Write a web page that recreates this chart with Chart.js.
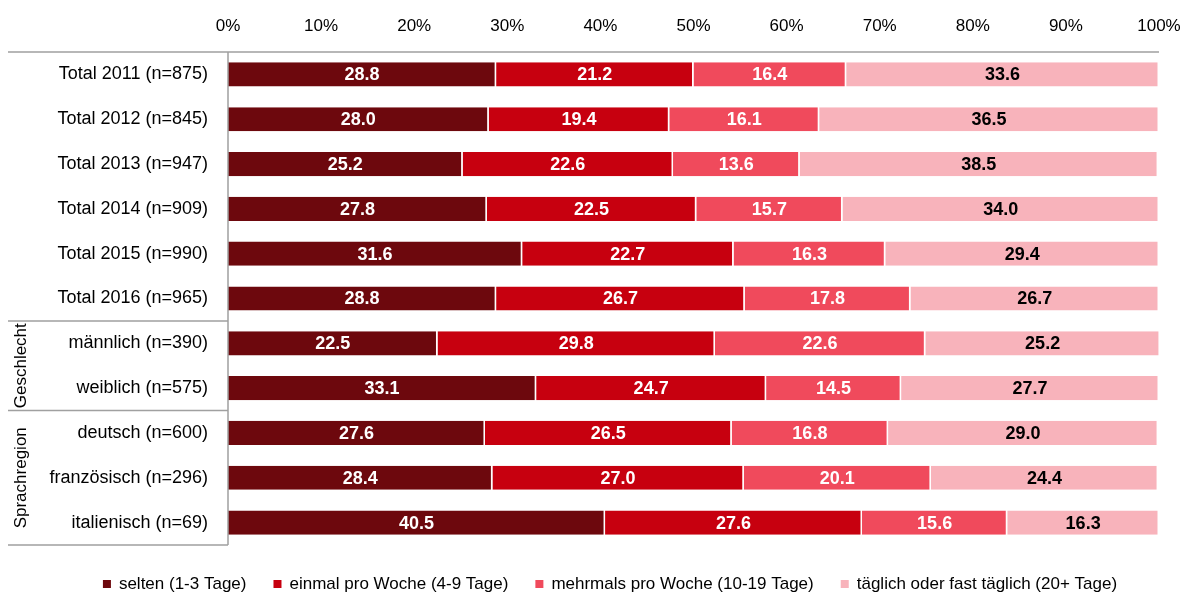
<!DOCTYPE html>
<html>
<head>
<meta charset="utf-8">
<script src="https://cdn.jsdelivr.net/npm/chart.js@4.4.0/dist/chart.umd.min.js"></script>
<style>
  body { margin: 0; background: #fff; }
  #wrap { width: 1184px; height: 597px; position: relative; }
</style>
</head>
<body>
<div id="wrap"><canvas id="myChart"></canvas></div>
<script>
var labels = ["Total 2011 (n=875)", "Total 2012 (n=845)", "Total 2013 (n=947)", "Total 2014 (n=909)",
  "Total 2015 (n=990)", "Total 2016 (n=965)", "männlich (n=390)", "weiblich (n=575)",
  "deutsch (n=600)", "französisch (n=296)", "italienisch (n=69)"]

var selten   = [28.8, 28.0, 25.2, 27.8, 31.6, 28.8, 22.5, 33.1, 27.6, 28.4, 40.5]
var einmal   = [21.2, 19.4, 22.6, 22.5, 22.7, 26.7, 29.8, 24.7, 26.5, 27.0, 27.6]
var mehrmals = [16.4, 16.1, 13.6, 15.7, 16.3, 17.8, 22.6, 14.5, 16.8, 20.1, 15.6]
var taeglich = [33.6, 36.5, 38.5, 34.0, 29.4, 26.7, 25.2, 27.7, 29.0, 24.4, 16.3]

var seriesNames = ["selten (1-3 Tage)", "einmal pro Woche (4-9 Tage)", "mehrmals pro Woche (10-19 Tage)", "täglich oder fast täglich (20+ Tage)"]

// groups: [label, first index, last index]
var groups = [["Geschlecht", 6, 7], ["Sprachregion", 8, 10]]

var FONT = "'Liberation Sans', Arial, sans-serif"

var colors = ["#6d080d", "#c7000f", "#f04a5c", "#f8b3bb"]
var labelColors = ["#fff", "#fff", "#fff", "#000"]

// draws the numbers inside the bars
var barLabels = {
  id: 'barLabels',
  afterDatasetsDraw: function(chart) {
    var ctx = chart.ctx
    ctx.save()
    ctx.font = "bold 18px " + FONT
    ctx.textAlign = 'center'
    ctx.textBaseline = 'middle'
    chart.data.datasets.forEach(function(ds, i) {
      var meta = chart.getDatasetMeta(i)
      meta.data.forEach(function(bar, j) {
        ctx.fillStyle = labelColors[i]
        var x = (bar.x + bar.base) / 2
        ctx.fillText(ds.data[j].toFixed(1), x, bar.y + 1)
      })
    })
    ctx.restore()
  }
}

// lines, group labels at the left, legend at the bottom
var frame = {
  id: 'frame',
  afterDraw: function(chart) {
    var ctx = chart.ctx
    var a = chart.chartArea
    var step = (a.bottom - a.top) / labels.length
    ctx.save()
    ctx.strokeStyle = '#a0a0a0'
    ctx.lineWidth = 1.5
    ctx.beginPath()
    ctx.moveTo(8, a.top); ctx.lineTo(a.right, a.top)
    ctx.moveTo(a.left, a.top); ctx.lineTo(a.left, a.bottom)
    groups.forEach(function(g) {
      var yy = a.top + g[1] * step
      ctx.moveTo(8, yy); ctx.lineTo(a.left, yy)
    })
    ctx.moveTo(8, a.bottom); ctx.lineTo(a.left, a.bottom)
    ctx.stroke()

    ctx.fillStyle = '#000'
    ctx.font = "17px " + FONT
    ctx.textAlign = 'center'
    ctx.textBaseline = 'middle'
    groups.forEach(function(g) {
      var mid = a.top + (g[1] + g[2] + 1) / 2 * step
      ctx.save()
      ctx.translate(21, mid)
      ctx.rotate(-Math.PI / 2)
      ctx.fillText(g[0], 0, 0)
      ctx.restore()
    })

    // legend
    ctx.font = "17px " + FONT
    ctx.textAlign = 'left'
    var box = 8, gap = 8, sep = 27
    var w = 0
    seriesNames.forEach(function(n, i) {
      w += box + gap + ctx.measureText(n).width + (i < seriesNames.length - 1 ? sep : 0)
    })
    var x = 610 - w / 2, y = 584
    seriesNames.forEach(function(n, i) {
      ctx.fillStyle = colors[i]
      ctx.fillRect(x, y - box / 2, box, box)
      ctx.fillStyle = '#000'
      ctx.fillText(n, x + box + gap, y)
      x += box + gap + ctx.measureText(n).width + sep
    })
    ctx.restore()
  }
}

var allData = [selten, einmal, mehrmals, taeglich]

new Chart(document.getElementById('myChart'), {
  type: 'bar',
  data: {
    labels: labels,
    datasets: allData.map(function(d, i) {
      return {
        label: seriesNames[i],
        data: d,
        backgroundColor: colors[i],
        borderColor: '#fff',
        borderWidth: {left: 0, right: 1.5, top: 0, bottom: 0},
        borderSkipped: false,
        categoryPercentage: 1,
        barPercentage: 0.54
      }
    })
  },
  options: {
    indexAxis: 'y',
    responsive: true,
    maintainAspectRatio: false,
    animation: false,
    layout: { padding: { left: 0, right: 0, top: 0, bottom: 52 } },
    scales: {
      x: {
        position: 'top',
        stacked: true,
        min: 0,
        max: 100,
        grid: { display: false, drawTicks: false },
        border: { display: false },
        ticks: {
          stepSize: 10,
          padding: 15,
          color: '#000',
          font: { family: FONT, size: 17 },
          callback: function(v) { return v + '%' }
        },
        afterFit: function(s) { s.height = 52; s.paddingLeft = 0; s.paddingRight = 25 }
      },
      y: {
        stacked: true,
        grid: { display: false, drawTicks: false },
        border: { display: false },
        ticks: {
          padding: 20,
          color: '#000',
          font: { family: FONT, size: 18 }
        },
        afterFit: function(s) { s.width = 228 }
      }
    },
    plugins: {
      legend: { display: false },
      tooltip: { enabled: false }
    }
  },
  plugins: [barLabels, frame]
})
</script>
</body>
</html>
